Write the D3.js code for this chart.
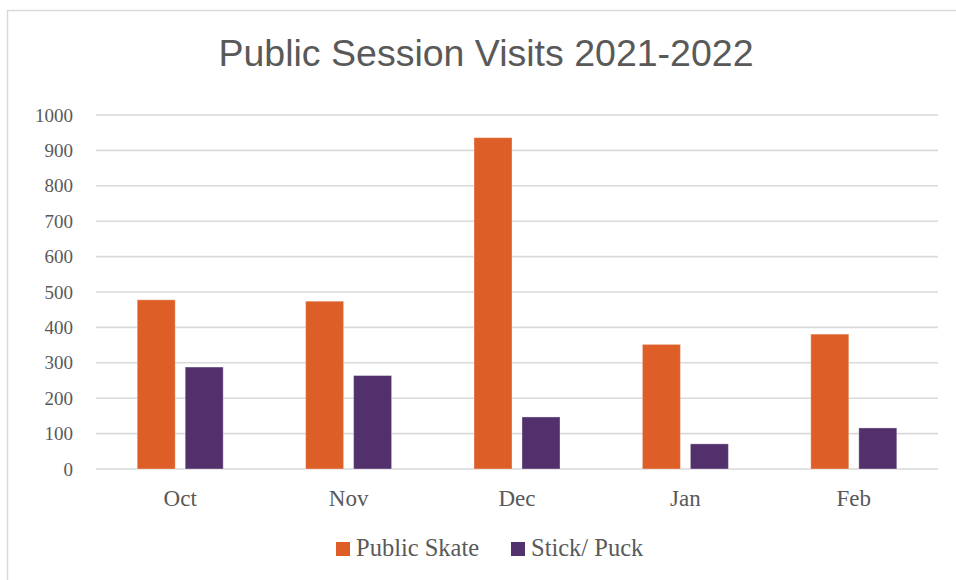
<!DOCTYPE html>
<html>
<head>
<meta charset="utf-8">
<script src="https://cdn.jsdelivr.net/npm/d3@7"></script>
<style>
  body { margin: 0; background: #fff; }
  svg { display: block; }
</style>
</head>
<body>
<div id="chart"></div>
<script>
// Data
const months = ["Oct", "Nov", "Dec", "Jan", "Feb"]
const series = ["Public Skate", "Stick/ Puck"]
const public_skate = [478, 474, 936, 352, 381]
const stick_puck = [288, 264, 147, 71, 116]
const y_ticks = [0, 100, 200, 300, 400, 500, 600, 700, 800, 900, 1000]
const colors = ["#DD5E27", "#52306B"]

const width = 956
const height = 580
const plot_left = 96, plot_right = 938, plot_top = 115, plot_bottom = 469

const svg = d3.select("#chart")
  .append("svg")
  .attr("width", width)
  .attr("height", height)

// Chart frame
svg.append("rect")
  .attr("x", 7.5)
  .attr("y", 10.5)
  .attr("width", 960)
  .attr("height", 580)
  .attr("fill", "#fff")
  .attr("stroke", "#d9d9d9")
  .attr("stroke-width", 1.5)

// Title
svg.append("text")
  .attr("x", 486)
  .attr("y", 66)
  .attr("text-anchor", "middle")
  .attr("font-family", "Liberation Sans, Arial, sans-serif")
  .attr("font-size", 37.5)
  .attr("fill", "#595959")
  .text("Public Session Visits 2021-2022")

// Scales
const x0 = d3.scaleBand()
  .domain(months)
  .range([plot_left, plot_right])

const x1 = d3.scaleBand()
  .domain(series)
  .range([-43, 43])
  .paddingInner(0.208)

const y = d3.scaleLinear()
  .domain([0, 1000])
  .range([plot_bottom, plot_top])

// Gridlines
svg.append("g")
  .attr("class", "grid")
  .selectAll("line")
  .data(y_ticks)
  .join("line")
    .attr("x1", plot_left)
    .attr("x2", plot_right)
    .attr("y1", d => y(d))
    .attr("y2", d => y(d))
    .attr("stroke", "#d9d9d9")
    .attr("stroke-width", 1.6)

// Y axis labels
const y_axis = svg.append("g")
  .attr("transform", `translate(${plot_left},0)`)
  .call(d3.axisLeft(y).tickValues(y_ticks).tickFormat(d3.format("d")).tickSize(0).tickPadding(23))
y_axis.select(".domain").remove()
y_axis.selectAll("text")
  .attr("font-family", "Liberation Serif, Times New Roman, serif")
  .attr("font-size", 19)
  .attr("fill", "#595959")

// X axis labels
const x_axis = svg.append("g")
  .attr("transform", `translate(0,${plot_bottom})`)
  .call(d3.axisBottom(x0).tickSize(0).tickPadding(21))
x_axis.select(".domain").remove()
x_axis.selectAll("text")
  .attr("font-family", "Liberation Serif, Times New Roman, serif")
  .attr("font-size", 23)
  .attr("fill", "#595959")

// Bars
const values = [public_skate, stick_puck]
const groups = svg.append("g")
  .selectAll("g")
  .data(months)
  .join("g")
    .attr("transform", d => `translate(${x0(d) + x0.bandwidth() / 2},0)`)

groups.selectAll("rect")
  .data((m, i) => series.map((s, k) => ({ s: s, k: k, v: values[k][i] })))
  .join("rect")
    .attr("x", d => x1(d.s))
    .attr("y", d => y(d.v))
    .attr("width", x1.bandwidth())
    .attr("height", d => y(0) - y(d.v))
    .attr("fill", d => colors[d.k])
    .attr("stroke", "#fff")
    .attr("stroke-opacity", 0.35)
    .attr("stroke-width", 1)

// Legend
const legend_x = [336, 511]
const legend = svg.append("g")
  .selectAll("g")
  .data(series)
  .join("g")
    .attr("transform", (d, i) => `translate(${legend_x[i]},542)`)
legend.append("rect")
  .attr("width", 14)
  .attr("height", 14)
  .attr("fill", (d, i) => colors[i])
legend.append("text")
  .attr("x", 20)
  .attr("y", 14)
  .attr("font-family", "Liberation Serif, Times New Roman, serif")
  .attr("font-size", 24.5)
  .attr("fill", "#595959")
  .text(d => d)
</script>
</body>
</html>
